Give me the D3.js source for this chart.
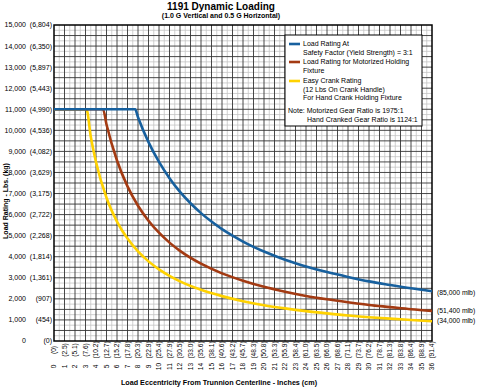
<!DOCTYPE html>
<html><head><meta charset="utf-8">
<script src="https://cdn.jsdelivr.net/npm/d3@7"></script>
<style>body{margin:0;background:#fff}svg{display:block;font-family:"Liberation Sans",Arial,sans-serif}</style>
</head><body><div id="chart"></div>
<script>
// Data (load in lbs vs eccentricity in inches)
const blueX = [0, 7.73, 8, 9, 10, 11, 12, 13, 14, 15, 16, 17, 18, 19, 20, 22, 24, 26, 28, 30, 32, 34, 36];
const blueY = [11000, 11000, 10620, 9440, 8500, 7730, 7080, 6540, 6070, 5670, 5310, 5000, 4720, 4470, 4250, 3860, 3540, 3270, 3040, 2830, 2660, 2500, 2360];
const redX = [0, 4.67, 5, 6, 7, 8, 9, 10, 11, 12, 14, 16, 18, 20, 22, 24, 26, 28, 30, 32, 34, 36];
const redY = [11000, 11000, 10280, 8570, 7340, 6420, 5710, 5140, 4670, 4280, 3670, 3210, 2860, 2570, 2340, 2140, 1980, 1840, 1710, 1610, 1510, 1430];
const yellowX = [0, 3.09, 3.5, 4, 5, 6, 7, 8, 9, 10, 11, 12, 14, 16, 18, 20, 22, 24, 26, 28, 30, 32, 34, 36];
const yellowY = [11000, 11000, 9710, 8500, 6800, 5670, 4860, 4250, 3780, 3400, 3090, 2830, 2430, 2130, 1890, 1700, 1550, 1420, 1310, 1210, 1130, 1060, 1000, 940];
const lbsTicks = [0, 1000, 2000, 3000, 4000, 5000, 6000, 7000, 8000, 9000, 10000, 11000, 12000, 13000, 14000, 15000];
const kgLabels = ["(0)", "(454)", "(907)", "(1,361)", "(1,814)", "(2,268)", "(2,722)", "(3,175)", "(3,629)", "(4,082)", "(4,536)", "(4,990)", "(5,443)", "(5,897)", "(6,350)", "(6,804)"];
const inchTicks = d3.range(0, 37);
const cmLabels = ["(0)","(2.5)","(5.1)","(7.6)","(10.2)","(12.7)","(15.2)","(17.8)","(20.3)","(22.9)","(25.4)","(27.9)","(30.5)","(33.0)","(35.6)","(38.1)","(40.6)","(43.2)","(45.7)","(48.3)","(50.8)","(53.3)","(55.9)","(58.4)","(61.0)","(63.5)","(66.0)","(68.6)","(71.1)","(73.7)","(76.2)","(78.7)","(81.3)","(83.8)","(86.4)","(88.9)","(91.4)"];
const seriesNames = ["blue", "red", "yellow"];
const endLabels = ["(85,000 mlb)", "(51,400 mlb)", "(34,000 mlb)"];

const W = 478, H = 392;
const L = 54, R = 432, T = 25, B = 341;
const svg = d3.select("#chart").append("svg").attr("width", W).attr("height", H);
const x = d3.scaleLinear().domain([0, 36]).range([L, R]);
const y = d3.scaleLinear().domain([0, 15000]).range([B, T]);

// grid
const g = svg.append("g");
g.selectAll(".vl").data(d3.range(0.5, 36, 1)).join("line")
  .attr("x1", d => x(d)).attr("x2", d => x(d)).attr("y1", T).attr("y2", B)
  .attr("stroke", "#c4c4c4").attr("stroke-width", 0.8);
g.selectAll(".hl").data(d3.range(250, 15000, 500)).join("line")
  .attr("y1", d => y(d)).attr("y2", d => y(d)).attr("x1", L).attr("x2", R)
  .attr("stroke", "#c4c4c4").attr("stroke-width", 0.8);
g.selectAll(".vd").data(d3.range(1, 36, 1)).join("line")
  .attr("x1", d => x(d)).attr("x2", d => x(d)).attr("y1", T).attr("y2", B)
  .attr("stroke", "#333").attr("stroke-width", 0.9);
g.selectAll(".hd").data(d3.range(500, 15000, 500)).join("line")
  .attr("y1", d => y(d)).attr("y2", d => y(d)).attr("x1", L).attr("x2", R)
  .attr("stroke", "#333").attr("stroke-width", 0.9);
svg.append("rect").attr("x", L).attr("y", T).attr("width", R - L).attr("height", B - T)
  .attr("fill", "none").attr("stroke", "#000").attr("stroke-width", 1.5);

// y labels
const yl = svg.append("g").attr("font-size", 7).attr("fill", "#000");
yl.selectAll(".lb").data(lbsTicks).join("text")
  .attr("x", 26).attr("y", d => y(d)).attr("dy", "0.35em").attr("text-anchor", "end")
  .text(d => d3.format(",")(d));
yl.selectAll(".kg").data(lbsTicks).join("text")
  .attr("x", 52).attr("y", d => y(d)).attr("dy", "0.35em").attr("text-anchor", "end")
  .text((d, i) => kgLabels[i]);
svg.append("text").attr("transform", "translate(8,201) rotate(-90)")
  .attr("text-anchor", "middle").attr("font-size", 7).attr("font-weight", "bold")
  .text("Load Rating - Lbs. (kg)");

// x labels
const xl = svg.append("g").attr("font-size", 6.6);
xl.selectAll(".cm").data(inchTicks).join("text")
  .attr("transform", d => `translate(${x(d)},350) rotate(-90)`)
  .attr("text-anchor", "middle").attr("dy", "0.35em").text((d, i) => cmLabels[i]);
xl.selectAll(".in").data(inchTicks).join("text")
  .attr("transform", d => `translate(${x(d)},366.5) rotate(-90)`)
  .attr("text-anchor", "middle").attr("dy", "0.35em").text(d => d);
svg.append("text").attr("x", 219).attr("y", 385).attr("text-anchor", "middle")
  .attr("font-size", 7.2).attr("font-weight", "bold")
  .text("Load Eccentricity From Trunnion Centerline - Inches (cm)");

// title
svg.append("text").attr("x", 221).attr("y", 10).attr("text-anchor", "middle")
  .attr("font-size", 10).attr("font-weight", "bold").text("1191 Dynamic Loading");
svg.append("text").attr("x", 221).attr("y", 18).attr("text-anchor", "middle")
  .attr("font-size", 7).attr("font-weight", "bold").text("(1.0 G Vertical and 0.5 G Horizontal)");

// lines
const colors = {blue: "#17609e", red: "#a33a12", yellow: "#ffd200"};
const data = {
  blue: blueX.map((d, i) => [d, blueY[i]]),
  red: redX.map((d, i) => [d, redY[i]]),
  yellow: yellowX.map((d, i) => [d, yellowY[i]])
};
const line = d3.line().x(d => x(d[0])).y(d => y(d[1])).curve(d3.curveMonotoneX);
["yellow", "red", "blue"].forEach(k => {
  svg.append("path").attr("d", line(data[k])).attr("fill", "none")
    .attr("stroke", colors[k]).attr("stroke-width", 2.6);
});
seriesNames.forEach((k, i) => {
  const last = data[k][data[k].length - 1];
  const yy = [293, 311, 321][i];
  svg.append("text").attr("x", 437).attr("y", yy).attr("dy", "0.35em")
    .attr("font-size", 6.8).text(endLabels[i]);
});

// legend
const lg = svg.append("g").attr("font-size", 7);
lg.append("rect").attr("x", 285).attr("y", 35).attr("width", 137).attr("height", 91)
  .attr("fill", "#fff").attr("stroke", "#000").attr("stroke-width", 1);
const legItems = [
  {c: "blue", lines: ["Load Rating At", "Safety Factor (Yield Strength) = 3:1"], y: 44},
  {c: "red", lines: ["Load Rating for Motorized Holding", "Fixture"], y: 62},
  {c: "yellow", lines: ["Easy Crank Rating", "(12 Lbs On Crank Handle)", "For Hand Crank Holding Fixture"], y: 81}
];
legItems.forEach(it => {
  lg.append("line").attr("x1", 289).attr("x2", 300).attr("y1", it.y).attr("y2", it.y)
    .attr("stroke", colors[it.c]).attr("stroke-width", 2.6);
  it.lines.forEach((t, j) => {
    lg.append("text").attr("x", 303).attr("y", it.y + j * 8.5).attr("dy", "0.35em").text(t);
  });
});
lg.append("text").attr("x", 288).attr("y", 111).attr("dy", "0.35em").text("Note: Motorized Gear Ratio is 1975:1");
lg.append("text").attr("x", 307).attr("y", 119.5).attr("dy", "0.35em").text("Hand Cranked Gear Ratio is 1124:1");
</script></body></html>
